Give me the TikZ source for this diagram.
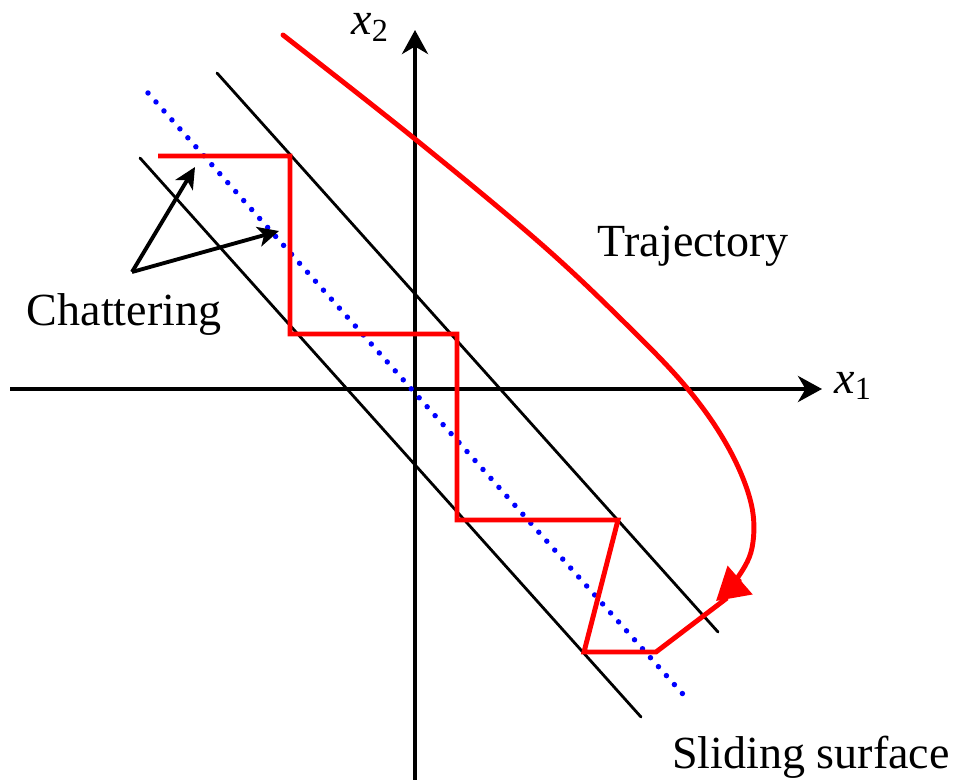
\documentclass[tikz,border=0pt]{standalone}
\usepackage{fontspec}
\setmainfont{Liberation Serif}
\usetikzlibrary{arrows.meta}
\definecolor{trajred}{RGB}{255,0,0}
\definecolor{surfblue}{RGB}{0,0,255}
\begin{document}
\begin{tikzpicture}[x=0.02cm,y=-0.02cm,
  axisline/.style={line width=2.5pt,-{Stealth[length=0.48cm,width=0.52cm,inset=0.15cm]}},
  boundline/.style={line width=1.6pt,line cap=round},
  surfline/.style={surfblue,line width=3.1pt,line cap=round,dash pattern=on 0pt off 0.24cm},
  redline/.style={trajred,line width=2.8pt},
  pointer/.style={line width=2.2pt,-{Stealth[length=0.42cm,width=0.4cm,inset=0.11cm]}},
  lbl/.style={inner sep=0pt,font=\fontsize{26.2pt}{31pt}\selectfont}]
\useasboundingbox (0,0) rectangle (959,780);
% axes
\coordinate (xa0) at (10,389);
\coordinate (xa1) at (822,389);
\coordinate (ya0) at (415,780);
\coordinate (ya1) at (415,30);
\draw[axisline] (xa0) -- (xa1);
\draw[axisline] (ya0) -- (ya1);
\node[lbl,anchor=base west] (lx1) at (834,393) {\textit{x}\textsubscript{1}};
\node[lbl,anchor=base west] (lx2) at (351,35) {\textit{x}\textsubscript{2}};
% boundary lines
\coordinate (la0) at (140,158);
\coordinate (la1) at (641,717);
\coordinate (lb0) at (217,73);
\coordinate (lb1) at (718,632);
\draw[boundline] (la0) -- (la1);
\draw[boundline] (lb0) -- (lb1);
% sliding surface
\coordinate (s0) at (148,93);
\coordinate (s1) at (689,701);
\draw[surfline] (s0) -- (s1);
% chattering path
\coordinate (c0) at (158,156);
\coordinate (c1) at (290,156);
\coordinate (c2) at (290,334);
\coordinate (c3) at (457,334);
\coordinate (c4) at (457,520);
\coordinate (c5) at (618,520);
\coordinate (c6) at (584,652);
\coordinate (c7) at (656,652);
\coordinate (c8) at (727,598);
\draw[redline] (c0) -- (c1) -- (c2) -- (c3) -- (c4) -- (c5) -- (c6) -- (c7) -- (c8);
% trajectory
\draw[redline,line cap=round,-{Triangle[length=0.64cm,width=0.74cm,line cap=butt]}]
  plot[smooth,tension=0.6] coordinates {(283,35) (415,139) (540,243) (625,323) (687,388) (728,447) (751,503) (752,548) (736,580) (716,601)};
% chattering pointers
\coordinate (ch) at (132,272);
\coordinate (ct1) at (195,167);
\coordinate (ct2) at (279,231);
\draw[pointer] (ch) -- (ct1);
\draw[pointer] (ch) -- (ct2);
% labels
\node[lbl,anchor=base] (traj) at (693,256) {Trajectory};
\node[lbl,anchor=base] (chat) at (124,325) {Chattering};
\node[lbl,anchor=base] (slide) at (811,768) {Sliding surface};
\end{tikzpicture}
\end{document}
